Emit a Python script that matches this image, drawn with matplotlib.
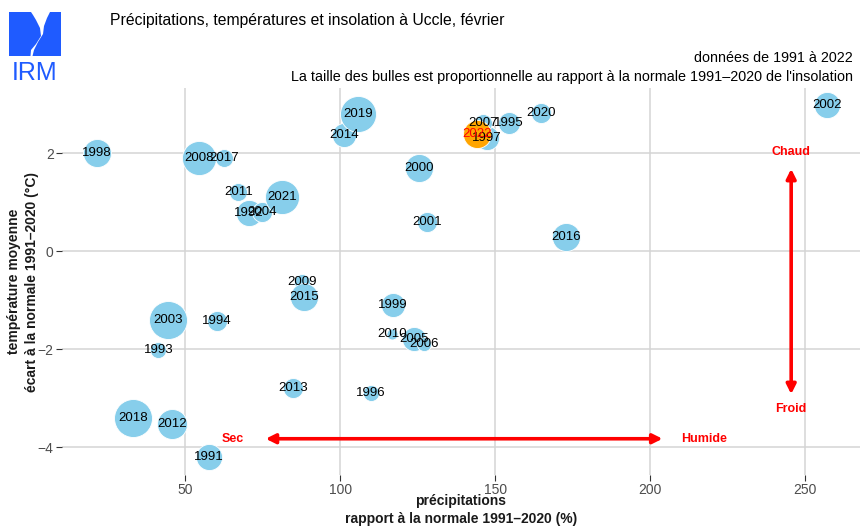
import matplotlib
matplotlib.use("Agg")
import matplotlib.pyplot as plt
from matplotlib.patches import Rectangle, Polygon

plt.rcParams['font.family'] = ['Liberation Sans', 'DejaVu Sans']

years = [1991, 1992, 1993, 1994, 1995, 1996, 1997, 1998, 1999, 2000, 2001,
         2002, 2003, 2004, 2005, 2006, 2007, 2008, 2009, 2010, 2011, 2012,
         2013, 2014, 2015, 2016, 2017, 2018, 2019, 2020, 2021, 2022]
precip = [57.7, 70.6, 41.4, 60.2, 154.5, 110.0, 147.4, 21.6, 117.0, 125.5, 128.0,
          257.0, 44.6, 74.7, 123.9, 127.1, 146.2, 54.5, 87.6, 116.7, 67.2, 45.9,
          84.7, 101.3, 88.4, 172.8, 62.6, 33.3, 105.9, 164.8, 81.2, 144.3]
temp = [-4.21, 0.78, -2.01, -1.42, 2.61, -2.90, 2.30, 2.00, -1.10, 1.69, 0.59,
        2.99, -1.41, 0.80, -1.80, -1.90, 2.61, 1.90, -0.63, -1.70, 1.21, -3.52,
        -2.80, 2.38, -0.93, 0.29, 1.90, -3.40, 2.80, 2.82, 1.10, 2.40]
insol = [85, 85, 32, 50, 60, 32, 72, 98, 72, 98, 50,
         85, 180, 50, 72, 25, 40, 145, 32, 15, 40, 112,
         50, 72, 98, 98, 40, 180, 162, 50, 145, 98]

xticks = [50, 100, 150, 200, 250]
yticks = [2, 0, -2, -4]
ytick_labels = ['2', '0', '\u22122', '\u22124']

W, H = 862, 530
fig = plt.figure(figsize=(W / 100, H / 100), dpi=100)
ax = fig.add_axes([62 / W, 1 - 475 / H, (860 - 62) / W, (475 - 88) / H])
ax.set_xlim(10.3, 267.7)
ax.set_ylim(-4.57, 3.33)

for s in ax.spines.values():
    s.set_visible(False)
ax.set_xticks(xticks)
ax.set_yticks(yticks)
ax.set_yticklabels(ytick_labels)
ax.grid(True, color='#d4d4d4', linewidth=1.1)
ax.set_axisbelow(True)
ax.tick_params(axis='both', colors='#333333', labelcolor='#4d4d4d',
               labelsize=10, length=4, width=0.8, pad=2)

k = 4.15
for i, y in enumerate(years):
    if y == 2022:
        continue
    ax.scatter(precip[i], temp[i], s=insol[i] * k, color='#87CEEB',
               edgecolor='white', linewidth=0.6, zorder=3)
i22 = years.index(2022)
ax.scatter(precip[i22], temp[i22], s=insol[i22] * k, color='#FFA500',
           edgecolor='white', linewidth=0.6, zorder=4)
for i, y in enumerate(years):
    col = 'red' if y == 2022 else 'black'
    ax.text(precip[i], temp[i], str(y), ha='center', va='center',
            fontsize=9.5, color=col, zorder=6 if y == 2022 else 5)

# arrows
arrow_kw = dict(arrowstyle='<|-|>', color='red', lw=2.6, mutation_scale=14,
                shrinkA=0, shrinkB=0)
ax.annotate('', xy=(76, -3.83), xytext=(204, -3.83), arrowprops=arrow_kw, zorder=6)
ax.annotate('', xy=(245.5, 1.68), xytext=(245.5, -2.92), arrowprops=arrow_kw, zorder=6)
tkw = dict(color='red', fontsize=9, fontweight='bold', ha='center', va='center', zorder=7)
ax.text(65.5, -3.83, 'Sec', **tkw)
ax.text(217.5, -3.83, 'Humide', **tkw)
ax.text(245.5, 2.02, 'Chaud', **tkw)
ax.text(245.5, -3.22, 'Froid', **tkw)

ax.set_xlabel('précipitations\nrapport à la normale 1991\u20132020 (%)',
              fontsize=10, fontweight='bold', color='#1a1a1a', labelpad=-2.5,
              linespacing=1.4)
ax.set_ylabel('température moyenne\nécart à la normale 1991\u20132020 (°C)',
              fontsize=10, fontweight='bold', color='#1a1a1a', labelpad=-1,
              linespacing=1.35)

# titles
fig.text(110 / W, 1 - 20 / H, 'Précipitations, températures et insolation à Uccle, février',
         fontsize=11.3, ha='left', va='center', color='black')
fig.text(853 / W, 1 - 58 / H, 'données de 1991 à 2022', fontsize=10.3,
         ha='right', va='center', color='black')
fig.text(853 / W, 1 - 77 / H,
         "La taille des bulles est proportionnelle au rapport à la normale 1991\u20132020 de l'insolation",
         fontsize=10.4, ha='right', va='center', color='black')

# logo
blue = '#1f5bff'
def P(x, y):
    return (x / W, 1 - y / H)
fig.patches.append(Rectangle(P(9, 56), 52 / W, 44 / H, transform=fig.transFigure,
                             facecolor=blue, edgecolor='none'))
white_pts = [(31, 12), (50, 12), (47, 18), (44, 26), (43, 34), (38, 42), (34, 50),
             (32.5, 56), (30.5, 56), (31, 50), (36, 44), (41, 36), (40, 28), (36, 20), (33, 15)]
fig.patches.append(Polygon([P(x, y) for x, y in white_pts], closed=True,
                           transform=fig.transFigure, facecolor='white', edgecolor='none'))
fig.text(P(35, 73)[0], P(35, 73)[1], 'IRM', fontsize=18, color=blue,
         ha='center', va='center')

fig.savefig('out.png', dpi=100)
